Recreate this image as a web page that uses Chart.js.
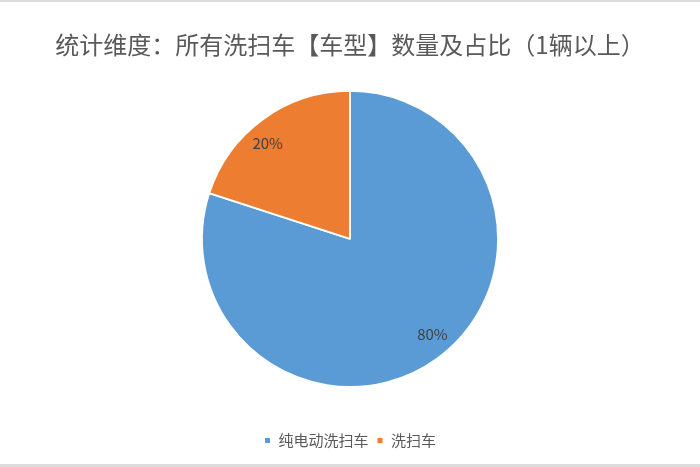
<!DOCTYPE html>
<html lang="zh">
<head>
  <meta charset="UTF-8" />
  <title>洗扫车车型占比</title>
  <script src="https://cdn.jsdelivr.net/npm/chart.js"></script>
  <style>
    body {
      margin: 0;
      background: #fff;
    }
    #wrap {
      width: 700px;
      height: 467px;
      box-sizing: border-box;
      border-top: 2px solid #dcdcdc;
      border-bottom: 3px solid #dcdcdc;
    }
  </style>
</head>
<body>
  <div id="wrap"><canvas id="pieChart" width="700" height="462"></canvas></div>

  <script>
    // 数据
    const categories = ['纯电动洗扫车', '洗扫车'];
    const shares = [80, 20];
    const colors = ['#5B9BD5', '#ED7D31'];

    // 扇区内的百分比标签（位置略向逆时针偏，和原图一致）
    const pctLabels = {
      id: 'pctLabels',
      afterDatasetsDraw(chart) {
        const ctx = chart.ctx;
        const total = shares.reduce((a, b) => a + b, 0);
        ctx.save();
        ctx.font = '15px "Noto Sans CJK SC", sans-serif';
        ctx.fillStyle = '#404040';
        ctx.textAlign = 'center';
        ctx.textBaseline = 'middle';
        chart.getDatasetMeta(0).data.forEach((arc, i) => {
          const p = arc.getProps(['x', 'y', 'startAngle', 'endAngle', 'outerRadius'], true);
          const mid = (p.startAngle + p.endAngle) / 2 - 0.085;
          const r = p.outerRadius * 0.85;
          const pct = Math.round(shares[i] / total * 100) + '%';
          ctx.fillText(pct, p.x + Math.cos(mid) * r, p.y + Math.sin(mid) * r);
        });
        ctx.restore();
      }
    };

    const ctx = document.getElementById('pieChart').getContext('2d');
    new Chart(ctx, {
      type: 'pie',
      data: {
        labels: categories,
        datasets: [{
          data: shares,
          backgroundColor: colors,
          borderColor: '#ffffff',
          borderWidth: 2
        }]
      },
      options: {
        responsive: false,
        animation: false,
        layout: { padding: { bottom: 6 } },
        plugins: {
          title: {
            display: true,
            text: '统计维度：所有洗扫车【车型】数量及占比（1辆以上）',
            color: '#595959',
            font: { family: '"Noto Sans CJK SC", sans-serif', size: 24, weight: 'normal' },
            padding: { top: 28, bottom: 31 }
          },
          legend: {
            position: 'bottom',
            title: {
              display: true,
              text: ' ',
              font: { size: 10 },
              padding: { top: 25, bottom: 0 }
            },
            labels: {
              color: '#595959',
              font: { family: '"Noto Sans CJK SC", sans-serif', size: 15 },
              boxWidth: 7,
              boxHeight: 7,
              padding: 8
            }
          },
          tooltip: { enabled: false }
        }
      },
      plugins: [pctLabels]
    });
  </script>
</body>
</html>
